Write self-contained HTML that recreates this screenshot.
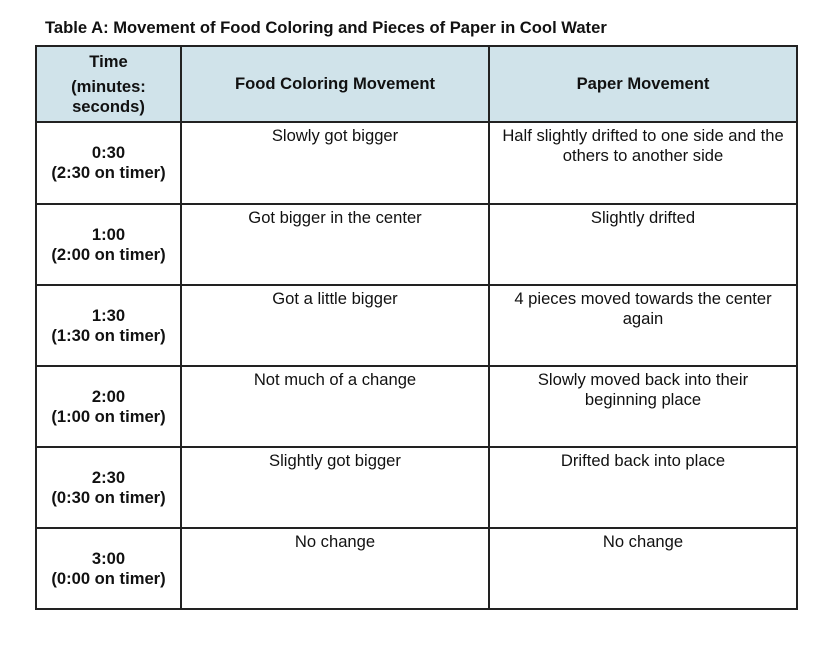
<!DOCTYPE html>
<html><head><style>
body{margin:0;width:832px;height:651px;background:#fff;font-family:"Liberation Sans",Arial,sans-serif;color:#111;position:relative;overflow:hidden}
.t{position:absolute;left:45px;top:18px;font-weight:bold;font-size:16.6px}
.c{position:absolute;box-sizing:border-box;font-size:16.6px;line-height:20px;text-align:center}
.h{background:#d0e3ea;font-weight:bold}
.b{font-weight:bold;display:flex;align-items:center;justify-content:center}
.top{padding-top:4px}
.vl,.hl{position:absolute;background:#222}
</style></head><body>
<div class="t">Table A: Movement of Food Coloring and Pieces of Paper in Cool Water</div>
<div class="c h" style="left:36px;top:46px;width:761px;height:76px"></div>
<div class="c b" style="left:36px;top:46px;width:145px;height:76px;flex-direction:column"><div style="line-height:20px">Time</div><div style="height:5px"></div><div>(minutes:<br>seconds)</div></div>
<div class="c b" style="left:181px;top:46px;width:308px;height:76px">Food Coloring Movement</div>
<div class="c b" style="left:489px;top:46px;width:308px;height:76px">Paper Movement</div>

<div class="c b" style="left:36px;top:122px;width:145px;height:82px">0:30<br>(2:30 on timer)</div>
<div class="c top" style="left:181px;top:122px;width:308px">Slowly got bigger</div>
<div class="c top" style="left:489px;top:122px;width:308px">Half slightly drifted to one side and the<br>others to another side</div>

<div class="c b" style="left:36px;top:204px;width:145px;height:81px">1:00<br>(2:00 on timer)</div>
<div class="c top" style="left:181px;top:204px;width:308px">Got bigger in the center</div>
<div class="c top" style="left:489px;top:204px;width:308px">Slightly drifted</div>

<div class="c b" style="left:36px;top:285px;width:145px;height:81px">1:30<br>(1:30 on timer)</div>
<div class="c top" style="left:181px;top:285px;width:308px">Got a little bigger</div>
<div class="c top" style="left:489px;top:285px;width:308px">4 pieces moved towards the center<br>again</div>

<div class="c b" style="left:36px;top:366px;width:145px;height:81px">2:00<br>(1:00 on timer)</div>
<div class="c top" style="left:181px;top:366px;width:308px">Not much of a change</div>
<div class="c top" style="left:489px;top:366px;width:308px">Slowly moved back into their<br>beginning place</div>

<div class="c b" style="left:36px;top:447px;width:145px;height:81px">2:30<br>(0:30 on timer)</div>
<div class="c top" style="left:181px;top:447px;width:308px">Slightly got bigger</div>
<div class="c top" style="left:489px;top:447px;width:308px">Drifted back into place</div>

<div class="c b" style="left:36px;top:528px;width:145px;height:81px">3:00<br>(0:00 on timer)</div>
<div class="c top" style="left:181px;top:528px;width:308px">No change</div>
<div class="c top" style="left:489px;top:528px;width:308px">No change</div>

<div class="vl" style="left:35px;top:45px;width:2px;height:565px"></div>
<div class="vl" style="left:180px;top:45px;width:2px;height:565px"></div>
<div class="vl" style="left:488px;top:45px;width:2px;height:565px"></div>
<div class="vl" style="left:796px;top:45px;width:2px;height:565px"></div>
<div class="hl" style="left:35px;top:45px;width:763px;height:2px"></div>
<div class="hl" style="left:35px;top:121px;width:763px;height:2px"></div>
<div class="hl" style="left:35px;top:203px;width:763px;height:2px"></div>
<div class="hl" style="left:35px;top:284px;width:763px;height:2px"></div>
<div class="hl" style="left:35px;top:365px;width:763px;height:2px"></div>
<div class="hl" style="left:35px;top:446px;width:763px;height:2px"></div>
<div class="hl" style="left:35px;top:527px;width:763px;height:2px"></div>
<div class="hl" style="left:35px;top:608px;width:763px;height:2px"></div>
</body></html>
